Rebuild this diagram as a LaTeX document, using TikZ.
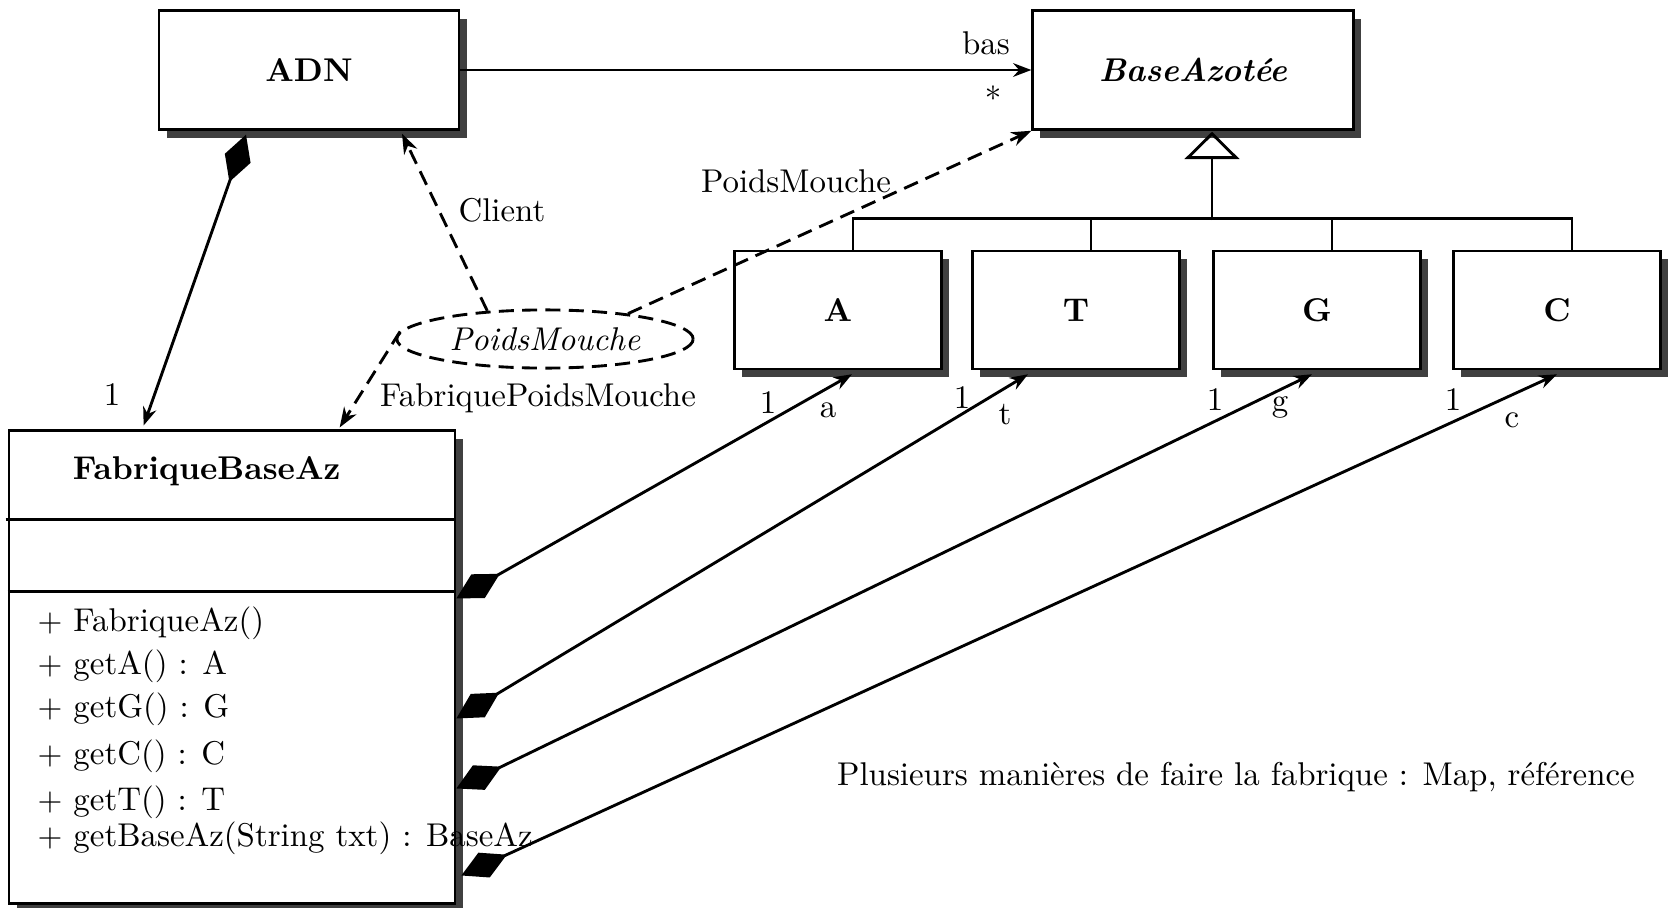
\documentclass[tikz,border=0pt]{standalone}
\usetikzlibrary{arrows.meta,shapes.geometric,shadows,calc}

\begin{document}
\begin{tikzpicture}[x=0.011cm,y=-0.011cm,
    every node/.style={font=\fontsize{10.3}{12.4}\selectfont},
    classe/.style={draw,line width=0.75pt,fill=white,rectangle,inner sep=0pt,
        drop shadow={shadow xshift=0.085cm,shadow yshift=-0.09cm,fill=black!75,opacity=1}},
    fleche/.style={line width=0.9pt,-{Stealth[length=0.2cm,width=0.15cm]}},
    compo/.style={line width=0.9pt,{Diamond[length=0.55cm,width=0.3cm]}-{Stealth[length=0.2cm,width=0.15cm]}},
    pointille/.style={line width=0.9pt,dash pattern=on 4.7pt off 2.6pt,-{Stealth[length=0.22cm,width=0.16cm]}},
    etiq/.style={inner sep=0pt}]

% cadre de la figure
\useasboundingbox (0,0) rectangle (1670,908);

% classes du haut
\node[classe,minimum width=3.3cm,minimum height=1.31cm] (adn) at (309,70) {\textbf{ADN}};
\node[classe,minimum width=3.53cm,minimum height=1.31cm] (ba) at (1193,70) {\textbf{\textit{BaseAzotée}}};

% les quatre bases
\foreach \n/\lab/\cx in {nA/A/838, nT/T/1076, nG/G/1317, nC/C/1557} {
    \node[classe,minimum width=2.28cm,minimum height=1.3cm] (\n) at (\cx,310) {\textbf{\lab}};
}

% la fabrique
\node[classe,minimum width=4.91cm,minimum height=5.2cm] (fab) at (232,667) {};
\draw[line width=0.75pt] ($(fab.north west)+(-2,90)$) -- ($(fab.north east)+(0,90)$);
\draw[line width=0.75pt] ($(fab.north west)+(0,162)$) -- ($(fab.north east)+(0,162)$);
\node[etiq] (titre) at ($(fab.north west)+(199,42)$) {\textbf{FabriqueBaseAz}};
\foreach \i/\yy/\txt in {1/631/{FabriqueAz()}, 2/674/{getA() : A}, 3/717/{getG() : G},
                         4/764/{getC() : C}, 5/810/{getT() : T}, 6/846/{getBaseAz(String txt) : BaseAz}} {
    \node[etiq,anchor=base west] (m\i) at (37,\yy) {$+$ \txt};
}

% le poids mouche
\node[draw,line width=0.9pt,dash pattern=on 4.7pt off 2.6pt,ellipse,minimum width=3.26cm,minimum height=0.64cm,inner sep=0pt]
    (pm) at (545,339) {\textit{PoidsMouche}};

% associations
\draw[fleche] (adn.east) -- (ba.west);
\node[etiq] (bas) at (986,43) {bas};
\node[etiq] (etoile) at (993,98) {*};

\draw[compo] ($(adn.south)+(-63,4)$) -- ($(fab.north west)+(136,-4)$);
\node[etiq] (un) at (112,395) {1};

% heritage
\coordinate (barre) at (1212,220);
\draw[line width=0.9pt,-{Triangle[open,length=0.3cm,width=0.6cm]}] (barre) -- ($(ba.south)+(19,1)$);
\draw[line width=0.9pt] ($(nA.north)+(14,-31)$) -- ($(nC.north)+(16,-31)$);
\foreach \n in {nA,nT,nG,nC}
    \draw[line width=0.9pt] ($(\n.north)+(15,0)$) -- ($(\n.north)+(15,-31)$);

% dependances du poids mouche
\draw[pointille] (pm.154) -- ($(adn.south)+(93,3)$);
\node[etiq] (client) at (502,210) {Client};
\draw[pointille] (pm.17) -- (ba.south west);
\node[etiq] (pmlab) at (796,181) {PoidsMouche};
\draw[pointille] (pm.177) -- ($(fab.north west)+(332,-2)$);
\node[etiq] (fpm) at (538,398) {FabriquePoidsMouche};

% compositions de la fabrique
\foreach \n/\dx/\dy/\ex in {nA/0/169/14, nT/0/289/-48, nG/0/359/-5, nC/5/446/0}
    \draw[compo] ($(fab.north east)+(\dx,\dy)$) -- ($(\n.south)+(\ex,4)$);
\foreach \n/\ux/\uy/\r/\rx/\ry in {A/768/403/a/828/410, T/962/398/t/1005/415,
                                   G/1215/400/g/1280/407, C/1453/400/c/1512/420} {
    \node[etiq] (un\n) at (\ux,\uy) {1};
    \node[etiq] (role\n) at (\rx,\ry) {\r};
}

% remarque
\node[etiq] (note) at (1236,777) {Plusieurs manières de faire la fabrique : Map, référence};
\end{tikzpicture}
\end{document}
